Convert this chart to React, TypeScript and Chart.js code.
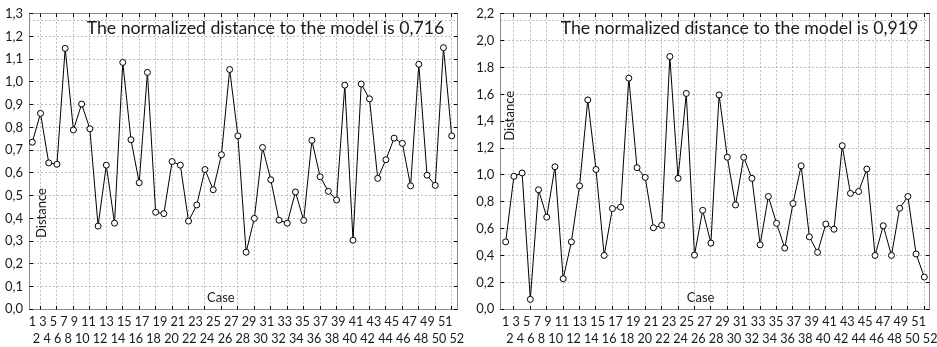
import React, { useEffect, useRef } from "react";
import { Chart, registerables } from "chart.js";

Chart.register(...registerables);

// ---------- data ----------
const cases = [
  1, 2, 3, 4, 5, 6, 7, 8, 9, 10, 11, 12, 13, 14, 15, 16, 17, 18, 19, 20, 21, 22, 23, 24, 25, 26,
  27, 28, 29, 30, 31, 32, 33, 34, 35, 36, 37, 38, 39, 40, 41, 42, 43, 44, 45, 46, 47, 48, 49, 50, 51, 52,
];

const leftDistance = [
  0.735, 0.862, 0.644, 0.638, 1.148, 0.789, 0.903, 0.794, 0.366, 0.634, 0.379, 1.086, 0.746, 0.557,
  1.042, 0.427, 0.421, 0.65, 0.634, 0.388, 0.459, 0.615, 0.526, 0.68, 1.055, 0.763, 0.251, 0.4, 0.712,
  0.57, 0.392, 0.379, 0.516, 0.391, 0.743, 0.583, 0.519, 0.481, 0.986, 0.304, 0.991, 0.926, 0.576,
  0.658, 0.753, 0.73, 0.543, 1.078, 0.59, 0.545, 1.151, 0.763,
];

const rightDistance = [
  0.502, 0.99, 1.015, 0.074, 0.89, 0.686, 1.061, 0.228, 0.502, 0.919, 1.559, 1.041, 0.401, 0.75,
  0.76, 1.721, 1.054, 0.982, 0.607, 0.625, 1.882, 0.975, 1.607, 0.404, 0.737, 0.493, 1.596, 1.132,
  0.777, 1.132, 0.975, 0.48, 0.84, 0.64, 0.456, 0.787, 1.068, 0.539, 0.424, 0.635, 0.596, 1.218,
  0.863, 0.877, 1.044, 0.401, 0.622, 0.401, 0.752, 0.84, 0.412, 0.24,
];

const leftYValues = [0, 0.1, 0.2, 0.3, 0.4, 0.5, 0.6, 0.7, 0.8, 0.9, 1.0, 1.1, 1.2, 1.3];
const leftYLabels = ["0,0", "0,1", "0,2", "0,3", "0,4", "0,5", "0,6", "0,7", "0,8", "0,9", "1,0", "1,1", "1,2", "1,3"];

const rightYValues = [0, 0.2, 0.4, 0.6, 0.8, 1.0, 1.2, 1.4, 1.6, 1.8, 2.0, 2.2];
const rightYLabels = ["0,0", "0,2", "0,4", "0,6", "0,8", "1,0", "1,2", "1,4", "1,6", "1.8", "2,0", "2,2"];

const leftTitle = "The normalized distance to the model is 0,716";
const rightTitle = "The normalized distance to the model is 0,919";
const yAxisName = "Distance";
const xAxisName = "Case";

// ---------- style ----------
const FONT = "Lato";
const GRID = "#bdbdbd";
const FRAME = "#8a8a8a";
const TEXT = "#1a1a1a";

const align = (p: number) => Math.round(p - 0.5) + 0.5;

const framePlugin = {
  id: "frameDecor",
  beforeDatasetsDraw(chart: any) {
    const { ctx, chartArea } = chart;
    const { left, right, top, bottom } = chartArea;
    const xs = chart.scales.x;
    const ys = chart.scales.y;
    ctx.save();
    // dotted line just under top frame
    ctx.strokeStyle = GRID;
    ctx.lineWidth = 1;
    ctx.setLineDash([2, 2]);
    ctx.beginPath();
    const ty = align(top + 6.3);
    ctx.moveTo(left, ty);
    ctx.lineTo(right, ty);
    ctx.stroke();
    ctx.setLineDash([]);
    // frame
    ctx.strokeStyle = FRAME;
    const L = align(left), R = align(right), T = align(top), B = align(bottom);
    ctx.strokeRect(L, T, R - L, B - T);
    // inward tick marks
    ctx.strokeStyle = "#000";
    ctx.beginPath();
    xs.ticks.forEach((t: any) => {
      if (t.value % 2 !== 0) return;
      const px = align(xs.getPixelForValue(t.value));
      ctx.moveTo(px, B);
      ctx.lineTo(px, B - 3.5);
      ctx.moveTo(px, T);
      ctx.lineTo(px, T + 3.5);
    });
    ys.ticks.forEach((t: any) => {
      const py = align(ys.getPixelForValue(t.value));
      ctx.moveTo(L, py);
      ctx.lineTo(L + 3.5, py);
      ctx.moveTo(R, py);
      ctx.lineTo(R - 3.5, py);
    });
    ctx.stroke();
    ctx.restore();
  },
  afterDraw(chart: any, _args: any, opts: any) {
    const { ctx, chartArea } = chart;
    const { left, right, top, bottom } = chartArea;
    const xs = chart.scales.x;
    const w = right - left;
    const h = bottom - top;
    ctx.save();
    ctx.fillStyle = TEXT;
    // title
    ctx.font = `17.7px ${FONT}`;
    ctx.textAlign = "center";
    ctx.textBaseline = "alphabetic";
    ctx.fillText(opts.title, left + opts.titleCenter, top + 20);
    // axis names
    ctx.font = `13px ${FONT}`;
    ctx.textBaseline = "middle";
    ctx.fillText(xAxisName, left + w * opts.caseX, bottom - 11.3);
    ctx.save();
    ctx.translate(left + opts.distX, top + h * opts.distY);
    ctx.rotate(-Math.PI / 2);
    ctx.fillText(yAxisName, 0, 0);
    ctx.restore();
    // category labels in two staggered rows
    const odd = cases.filter((_, i) => i % 2 === 0).map(String);
    const even = cases.filter((_, i) => i % 2 === 1).map(String);
    ctx.textAlign = "left";
    ctx.font = `12.6px ${FONT}`;
    const x1 = xs.getPixelForValue(cases[0]) - ctx.measureText(odd[0]).width / 2;
    const x2 = xs.getPixelForValue(cases[1]) - ctx.measureText(even[0]).width / 2 - 4;
    ctx.fillText(odd.join(" "), x1, bottom + 12.6);
    ctx.fillText(even.join(" "), x2, bottom + 29.2);
    ctx.restore();
  },
};

type PanelProps = {
  values: number[];
  yValues: number[];
  yLabels: string[];
  yMax: number;
  xMin: number;
  xMax: number;
  yWidth: number;
  padRight: number;
  title: string;
  titleCenter: number;
  caseX: number;
  distX: number;
  distY: number;
};

function Panel(p: PanelProps) {
  const ref = useRef<HTMLCanvasElement | null>(null);
  useEffect(() => {
    if (!ref.current) return;
    const chart = new Chart(ref.current, {
      type: "line",
      data: {
        datasets: [
          {
            data: cases.map((c, i) => ({ x: c, y: p.values[i] })),
            borderColor: "#000",
            borderWidth: 1,
            pointRadius: 3,
            pointBorderWidth: 1,
            pointBackgroundColor: "#fff",
            pointBorderColor: "#000",
            tension: 0,
            fill: false,
          },
        ],
      },
      options: {
        animation: false,
        responsive: true,
        maintainAspectRatio: false,
        layout: { padding: { top: 11, right: p.padRight, left: 0, bottom: 0 } },
        plugins: {
          legend: { display: false },
          tooltip: { enabled: false },
          frameDecor: {
            title: p.title,
            titleCenter: p.titleCenter,
            caseX: p.caseX,
            distX: p.distX,
            distY: p.distY,
          },
        } as any,
        scales: {
          x: {
            type: "linear",
            min: p.xMin,
            max: p.xMax,
            afterBuildTicks: (s: any) => {
              s.ticks = cases.map((v) => ({ value: v }));
            },
            ticks: { display: false },
            grid: {
              color: (c: any) => (c.tick && c.tick.value % 2 === 0 ? GRID : "rgba(0,0,0,0)"),
              lineWidth: 1,
              drawTicks: false,
            },
            border: { display: false, dash: [2, 2] },
            afterFit: (s: any) => {
              s.height = 37.7;
            },
          },
          y: {
            type: "linear",
            min: 0,
            max: p.yMax,
            afterBuildTicks: (s: any) => {
              s.ticks = p.yValues.map((v) => ({ value: v }));
            },
            ticks: {
              callback: (_v: any, i: number) => p.yLabels[i],
              padding: 6,
              color: TEXT,
              font: { family: FONT, size: 13 },
            },
            grid: { color: GRID, lineWidth: 1, drawTicks: false },
            border: { display: false, dash: [2, 2] },
            afterFit: (s: any) => {
              s.width = p.yWidth;
            },
          },
        },
      } as any,
      plugins: [framePlugin],
    });
    return () => chart.destroy();
  }, []);
  return <canvas ref={ref} />;
}

export default function App() {
  return (
    <div style={{ position: "absolute", left: 0, top: 0, width: 937, height: 347, background: "#fff" }}>
      <div style={{ position: "absolute", left: 0, top: 0, width: 468, height: 347 }}>
        <Panel
          values={leftDistance}
          yValues={leftYValues}
          yLabels={leftYLabels}
          yMax={1.3}
          xMin={0.6}
          xMax={52.68}
          yWidth={29}
          padRight={10.7}
          title={leftTitle}
          titleCenter={236.5}
          caseX={0.448}
          distX={13.2}
          distY={0.674}
        />
      </div>
      <div style={{ position: "absolute", left: 468, top: 0, width: 469, height: 347 }}>
        <Panel
          values={rightDistance}
          yValues={rightYValues}
          yLabels={rightYLabels}
          yMax={2.2}
          xMin={0.342}
          xMax={52.61}
          yWidth={32.3}
          padRight={7.7}
          title={rightTitle}
          titleCenter={239.2}
          caseX={0.467}
          distX={9.7}
          distY={0.345}
        />
      </div>
    </div>
  );
}
